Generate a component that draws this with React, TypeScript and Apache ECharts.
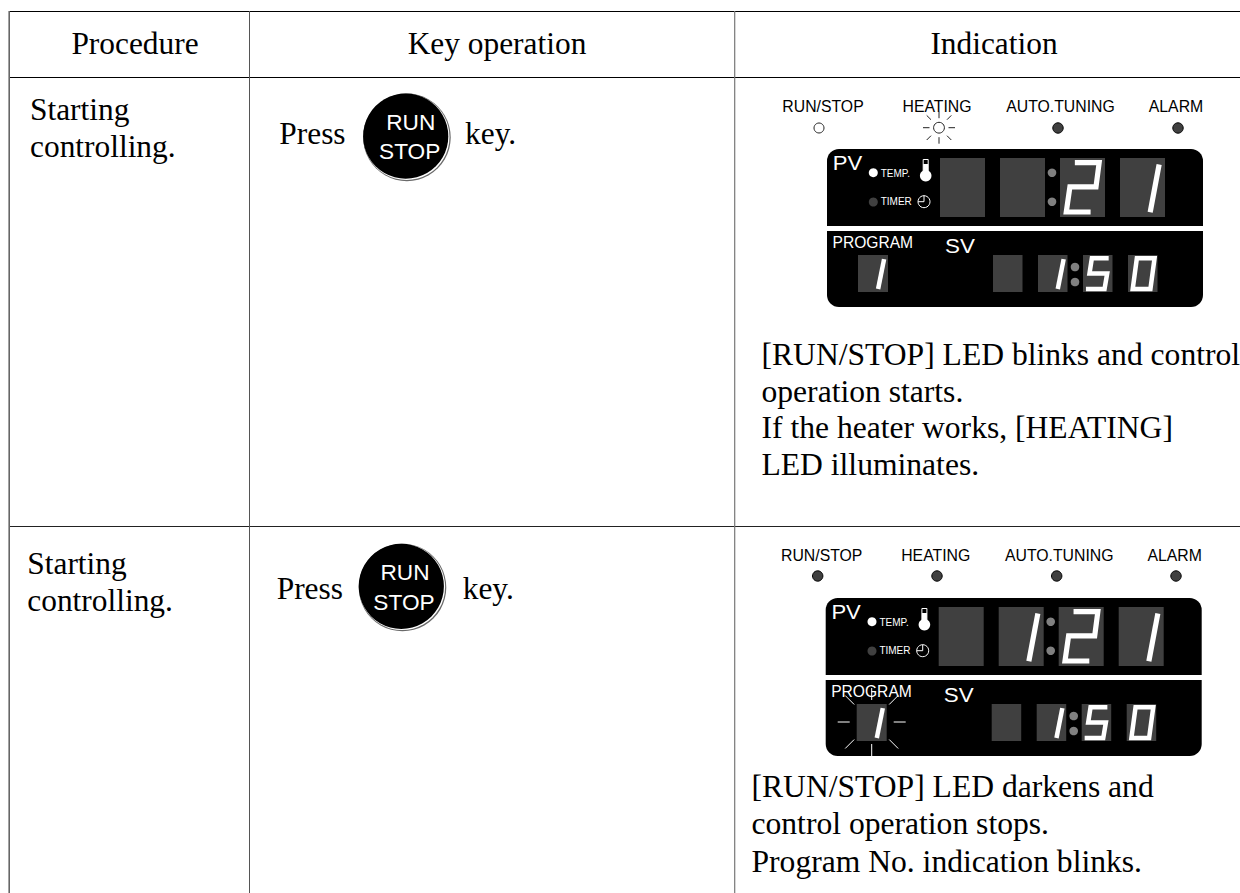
import React, { useEffect, useRef } from "react";
import * as echarts from "echarts";

const HEADERS = ["Procedure", "Key operation", "Indication"];
const PROCEDURE_LINES = ["Starting", "controlling."];
const KEY_WORDS = ["Press", "key."];
const KEY_LABELS = ["RUN", "STOP"];
const LED_LABELS = ["RUN/STOP", "HEATING", "AUTO.TUNING", "ALARM"];
const NOTE_ROW1 = [
  "[RUN/STOP] LED blinks and control",
  "operation starts.",
  "If the heater works, [HEATING]",
  "LED illuminates.",
];
const NOTE_ROW2 = [
  "[RUN/STOP] LED darkens and",
  "control operation stops.",
  "Program No. indication blinks.",
];
const PV_ROW1 = ["", "", "2", "1"];
const PV_ROW2 = ["", "1", "2", "1"];
const SV_DIGITS = ["", "1", "5", "0"];
const PROGRAM_DIGIT = "1";

const SERIF = '"Liberation Serif", "Times New Roman", serif';
const SANS = '"Liberation Sans", Arial, sans-serif';
const DARK = "#404040";

// digit strokes in fractions of the digit's box
const SEGMENTS: Record<string, { pts: number[][]; closed?: boolean }> = {
  "0": { pts: [[0.3, 0.09], [0.9, 0.09], [0.76, 0.92], [0.16, 0.92]], closed: true },
  "1": { pts: [[0.87, 0.11], [0.67, 0.92]] },
  "2": { pts: [[0.33, 0.08], [0.87, 0.08], [0.8, 0.49], [0.22, 0.49], [0.14, 0.915], [0.68, 0.915]] },
  "5": { pts: [[0.87, 0.09], [0.3, 0.09], [0.22, 0.5], [0.82, 0.5], [0.73, 0.92], [0.1, 0.92]] },
};

function txt(s: string, x: number, base: number, size: number, family: string, fill: string, align = "left", extra: any = {}) {
  return {
    type: "text",
    x,
    y: base - size * 0.335,
    silent: true,
    ...extra,
    style: { text: s, fill, align, verticalAlign: "middle", font: `${size}px ${family}` },
  };
}
const ln = (x1: number, y1: number, x2: number, y2: number, stroke = "#000", lineWidth = 1) => ({
  type: "line",
  shape: { x1, y1, x2, y2 },
  style: { stroke, lineWidth },
  silent: true,
});
const box = (x: number, y: number, width: number, height: number, fill: string, r: any = 0) => ({
  type: "rect",
  shape: { x, y, width, height, r },
  style: { fill },
  silent: true,
});
const dot = (cx: number, cy: number, r: number, fill: string, stroke?: string, lineWidth = 1) => ({
  type: "circle",
  shape: { cx, cy, r },
  style: { fill, stroke: stroke || "none", lineWidth },
  silent: true,
});

function digit(d: string, x: number, y: number, w: number, h: number, lw: number) {
  const out: any[] = [box(x, y, w, h, DARK)];
  const seg = SEGMENTS[d];
  if (seg) {
    const points = seg.pts.map(([u, v]) => [x + u * w, y + v * h]);
    out.push({
      type: seg.closed ? "polygon" : "polyline",
      shape: { points },
      style: { stroke: "#fff", lineWidth: lw, fill: "none", lineJoin: "miter", lineCap: "butt" },
      silent: true,
    });
  }
  return out;
}

function rays(cx: number, cy: number, inner: number, outer: number, dInner: number, dOuter: number, stroke: string, lw: number) {
  const out: any[] = [];
  out.push(ln(cx - outer, cy, cx - inner, cy, stroke, lw), ln(cx + inner, cy, cx + outer, cy, stroke, lw));
  out.push(ln(cx, cy - outer, cx, cy - inner, stroke, lw), ln(cx, cy + inner, cx, cy + outer, stroke, lw));
  for (const [a, b] of [[-1, -1], [1, -1], [-1, 1], [1, 1]]) {
    out.push(ln(cx + a * dOuter, cy + b * dOuter, cx + a * dInner, cy + b * dInner, stroke, lw));
  }
  return out;
}

function keyCap(cx: number, cy: number, runX: number, runBase: number, stopX: number, stopBase: number) {
  return [
    dot(cx + 0.6, cy + 0.6, 43.8, "#6a6a6a"),
    dot(cx + 0.2, cy + 0.2, 43, "#fff"),
    dot(cx - 0.6, cy - 0.6, 42.6, "#000"),
    txt(KEY_LABELS[0], runX, runBase, 22, SANS, "#fff", "center", { scaleX: 1.03 }),
    txt(KEY_LABELS[1], stopX, stopBase, 22, SANS, "#fff", "center", { scaleX: 1.03 }),
  ];
}

function panel(dx: number, dy: number, pv: string[]) {
  const X = (v: number) => v + dx;
  const Y = (v: number) => v + dy;
  const els: any[] = [];
  els.push(box(X(827), Y(149), 376, 77, "#000", [12, 12, 0, 0]));
  els.push(box(X(827), Y(231), 376, 76, "#000", [0, 0, 12, 12]));

  els.push(txt("PV", X(832.7), Y(170), 21, SANS, "#fff", "left", { scaleX: 1.05 }));
  els.push(dot(X(873.3), Y(172.7), 4.5, "#fff"));
  els.push(dot(X(873.3), Y(202), 4.5, DARK));
  els.push(txt("TEMP.", X(880.7), Y(176.5), 10, SANS, "#fff"));
  els.push(txt("TIMER", X(880.7), Y(205), 10, SANS, "#fff"));

  // thermometer
  els.push({
    type: "rect",
    shape: { x: X(923.2), y: Y(159.5), width: 5, height: 12 },
    style: { fill: "#000", stroke: "#fff", lineWidth: 1 },
    silent: true,
  });
  els.push(box(X(923.2), Y(164), 5, 8, "#fff"));
  els.push(dot(X(925.7), Y(175.7), 5.8, "#fff"));
  // clock
  els.push(dot(X(924), Y(201.7), 6, "none", "#fff", 1));
  els.push(ln(X(924), Y(201.7), X(924), Y(195.7), "#fff", 1));
  els.push(ln(X(918), Y(201.7), X(924), Y(201.7), "#fff", 1));

  const pvX = [940, 1000, 1060, 1120];
  pv.forEach((d, i) => els.push(...digit(d, X(pvX[i]), Y(158), 45, 59, 5.2)));
  els.push(dot(X(1052), Y(172.7), 4.3, "#808080"), dot(X(1052), Y(201.7), 4.3, "#808080"));

  els.push(txt("PROGRAM", X(832.5), Y(248.2), 15.6, SANS, "#fff"));
  els.push(txt("SV", X(945), Y(253), 20, SANS, "#fff", "left", { scaleX: 1.12 }));

  els.push(...digit(PROGRAM_DIGIT, X(858), Y(255), 30, 37, 4.5));
  const svX = [993, 1038, 1083, 1128];
  SV_DIGITS.forEach((d, i) => els.push(...digit(d, X(svX[i]), Y(255), 29.5, 37, 4.5)));
  els.push(dot(X(1075), Y(267), 4.3, "#808080"), dot(X(1075), Y(282), 4.3, "#808080"));

  const labelX = [823, 937, 1060.5, 1176];
  LED_LABELS.forEach((s, i) => els.push(txt(s, X(labelX[i]), Y(111.5), 15.8, SANS, "#000", "center")));
  return els;
}

function buildGraphic() {
  const g: any[] = [];
  // table rules
  g.push(ln(9, 11.5, 1240, 11.5, "#000", 1));
  g.push(ln(9, 77.5, 1240, 77.5, "#000", 1));
  g.push(ln(9, 526.5, 1240, 526.5, "#222", 1));
  g.push(ln(9.2, 11, 9.2, 893, "#666", 1.6));
  g.push(ln(249.5, 11, 249.5, 893, "#555", 1));
  g.push(ln(734.7, 11, 734.7, 893, "#777", 1.2));

  g.push(txt(HEADERS[0], 135, 54, 31.4, SERIF, "#000", "center"));
  g.push(txt(HEADERS[1], 497, 54, 31.4, SERIF, "#000", "center"));
  g.push(txt(HEADERS[2], 994, 54, 31.4, SERIF, "#000", "center"));

  g.push(txt(PROCEDURE_LINES[0], 30, 120, 31.4, SERIF, "#000"));
  g.push(txt(PROCEDURE_LINES[1], 30, 157, 31.4, SERIF, "#000"));
  g.push(txt(PROCEDURE_LINES[0], 27.3, 574, 31.4, SERIF, "#000"));
  g.push(txt(PROCEDURE_LINES[1], 27.3, 610.7, 31.4, SERIF, "#000"));

  g.push(txt(KEY_WORDS[0], 279.3, 144, 31.4, SERIF, "#000"));
  g.push(txt(KEY_WORDS[1], 465, 144, 31.4, SERIF, "#000"));
  g.push(...keyCap(406.3, 136.8, 410.7, 129.5, 409.7, 158.5));
  g.push(txt(KEY_WORDS[0], 276.7, 599.3, 31.4, SERIF, "#000"));
  g.push(txt(KEY_WORDS[1], 462.7, 599.3, 31.4, SERIF, "#000"));
  g.push(...keyCap(401.9, 586.9, 405, 580, 404, 609.5));

  // first indication
  g.push(...panel(0, 0, PV_ROW1));
  g.push(dot(819, 128, 5, "#fff", "#222", 1));
  g.push(dot(939, 127.7, 5.4, "#fff", "#222", 1));
  g.push(...rays(939, 127.7, 9.5, 16, 8, 12.3, "#222", 1));
  g.push(dot(1058, 128, 5.2, DARK, "#000", 1));
  g.push(dot(1178, 128, 5.2, DARK, "#000", 1));

  // second indication
  g.push(...panel(-1.3, 449, PV_ROW2));
  [817.7, 937, 1056.7, 1176].forEach((x) => g.push(dot(x, 576, 5.2, DARK, "#000", 1)));
  g.push(...rays(871.7, 722, 22, 34, 17.5, 26.5, "#fff", 1));

  NOTE_ROW1.forEach((s, i) => g.push(txt(s, 761.5, 365 + i * 36.7, 31.6, SERIF, "#000")));
  NOTE_ROW2.forEach((s, i) => g.push(txt(s, 751.5, 797 + i * 37.4, 31.6, SERIF, "#000")));
  return g;
}

export default function App() {
  const ref = useRef<HTMLDivElement>(null);
  useEffect(() => {
    document.body.style.margin = "0";
    const chart = echarts.init(ref.current!, undefined, { renderer: "svg" });
    chart.setOption({
      animation: false,
      backgroundColor: "#fff",
      graphic: { elements: buildGraphic() },
    });
    return () => chart.dispose();
  }, []);
  return <div ref={ref} style={{ width: 1240, height: 893 }} />;
}
